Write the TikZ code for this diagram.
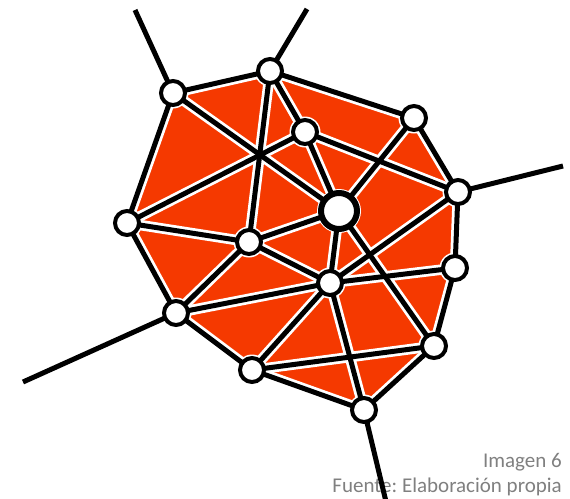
\documentclass[tikz,border=0pt]{standalone}
\usepackage{fontspec}
\setmainfont{Carlito}
\frenchspacing
\definecolor{meshred}{RGB}{245,57,0}
\definecolor{capgray}{RGB}{128,128,128}
\tikzset{
  halo/.style={white,line width=10.5pt,line cap=round},
  edge/.style={black,line width=5pt,line cap=round},
  ext/.style={black,line width=5pt},
  vtx/.style={circle,fill=white,draw=black,line width=4pt,minimum size=24pt,inner sep=0pt},
  bigvtx/.style={circle,fill=white,draw=black,line width=6pt,minimum size=36pt,inner sep=0pt},
  captext/.style={text=capgray,font=\fontsize{21}{24}\selectfont,anchor=base east,inner sep=0pt}
}
\begin{document}
\begin{tikzpicture}[x=1pt,y=-1pt]
\useasboundingbox (0,0) rectangle (570,498);
% vertex coordinates
\coordinate (A) at (173,93);
\coordinate (B) at (270,71);
\coordinate (C) at (305,132);
\coordinate (D) at (414,118);
\coordinate (E) at (458,192);
\coordinate (F) at (339,211);
\coordinate (G) at (127,223);
\coordinate (H) at (249,242);
\coordinate (I) at (455,268);
\coordinate (J) at (330,283);
\coordinate (K) at (176,313);
\coordinate (L) at (434,346);
\coordinate (M) at (252,370);
\coordinate (N) at (364,410);
% external ends
\coordinate (xa) at (135,10);
\coordinate (xb) at (307,9);
\coordinate (xe) at (563,166);
\coordinate (xk) at (23,382);
\coordinate (xn) at (388,510);
% fill
\fill[meshred] (A) -- (B) -- (D) -- (E) -- (I) -- (L) -- (N) -- (M) -- (K) -- (G) -- cycle;
% halos
\foreach \u/\v in {A/B,B/D,D/E,E/I,I/L,L/N,N/M,M/K,K/G,G/A,
  A/F,B/H,G/C,B/C,C/F,C/E,D/F,F/L,E/J,F/J,F/H,G/H,H/J,H/K,K/J,J/M,J/N,J/I,M/L}
  \draw[halo] (\u) -- (\v);
\foreach \p in {A,B,C,D,E,G,H,I,J,K,L,M,N}
  \fill[white] (\p) circle (15.5pt);
\fill[white] (F) circle (22pt);
% text
\node[captext] (t1) at (562,467) {Imagen 6};
\node[captext] (t2) at (562,492) {Fuente: Elaboración propia};
% external lines
\draw[ext] (A) -- (xa);
\draw[ext] (B) -- (xb);
\draw[ext] (E) -- (xe);
\draw[ext] (K) -- (xk);
\draw[ext] (N) -- (xn);
% edges
\foreach \u/\v in {A/B,B/D,D/E,E/I,I/L,L/N,N/M,M/K,K/G,G/A,
  A/F,B/H,G/C,B/C,C/F,C/E,D/F,F/L,E/J,F/J,F/H,G/H,H/J,H/K,K/J,J/M,J/N,J/I,M/L}
  \draw[edge] (\u) -- (\v);
% vertices
\foreach \p in {A,B,C,D,E,G,H,I,J,K,L,M,N}
  \node[vtx] (n\p) at (\p) {};
\node[bigvtx] (nF) at (F) {};
\end{tikzpicture}
\end{document}
